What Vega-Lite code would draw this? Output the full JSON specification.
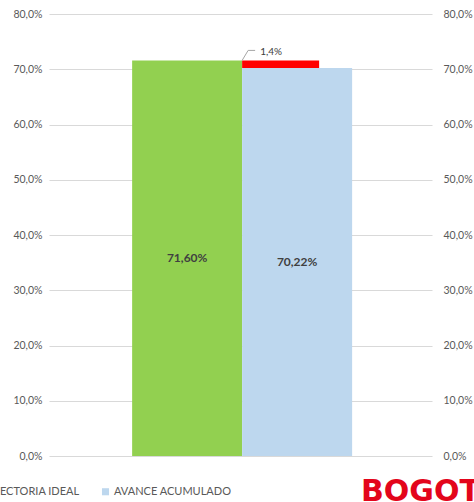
{
  "$schema": "https://vega.github.io/schema/vega-lite/v6.json",
  "autosize": "none",
  "width": 383,
  "height": 442,
  "padding": {"left": 49, "top": 14, "right": 42, "bottom": 46},
  "background": "white",
  "config": {"view": {"stroke": null}, "font": "Lato"},
  "title": {
    "text": "BOGOTÁ",
    "orient": "bottom",
    "anchor": "end",
    "frame": "group",
    "align": "left",
    "baseline": "alphabetic",
    "dx": -71,
    "offset": 4,
    "color": "#E3051B",
    "font": "DejaVu Sans",
    "fontWeight": "bold",
    "fontSize": 30
  },
  "datasets": {
    "barras": [
      {"serie": "TRAYECTORIA IDEAL", "valor": 71.6, "etiqueta": "71,60%"},
      {"serie": "AVANCE ACUMULADO", "valor": 70.22, "etiqueta": "70,22%"}
    ],
    "brecha": [
      {"serie": "AVANCE ACUMULADO", "desde": 70.22, "hasta": 71.6, "etiqueta": "1,4%"}
    ]
  },
  "resolve": {"axis": {"y": "independent"}},
  "layer": [
    {
      "data": {"name": "barras"},
      "mark": {"type": "bar"},
      "encoding": {
        "x": {
          "field": "serie", "type": "nominal", "axis": null,
          "scale": {"domain": ["TRAYECTORIA IDEAL", "AVANCE ACUMULADO"], "paddingInner": 0, "paddingOuter": 0.741, "align": 0.51}
        },
        "y": {
          "field": "valor", "type": "quantitative",
          "scale": {"domain": [0, 80], "nice": false},
          "axis": {
            "orient": "left", "title": null, "values": [0, 10, 20, 30, 40, 50, 60, 70, 80],
            "labelExpr": "replace(format(datum.value, '.1f'), '.', ',') + '%'",
            "grid": true, "gridColor": "#D9D9D9", "gridWidth": 1,
            "domain": false, "ticks": false, "labelPadding": 7,
            "labelColor": "#595959", "labelFontSize": 10.5
          }
        },
        "color": {
          "field": "serie", "type": "nominal",
          "scale": {"domain": ["TRAYECTORIA IDEAL", "AVANCE ACUMULADO"], "range": ["#92D050", "#BDD7EE"]},
          "legend": {
            "orient": "none", "legendX": -90, "legendY": 472, "direction": "horizontal",
            "title": null, "symbolType": "square", "symbolSize": 50, "symbolStrokeWidth": 0,
            "labelFontSize": 11, "labelColor": "#595959", "columnPadding": 20, "labelOffset": 3
          }
        }
      }
    },
    {
      "data": {"name": "barras"},
      "mark": {"type": "text", "fontWeight": "bold", "fontSize": 12, "color": "#404040", "baseline": "middle"},
      "encoding": {
        "x": {"field": "serie", "type": "nominal", "axis": null},
        "y": {"field": "valor", "type": "quantitative", "stack": "zero", "bandPosition": 0.5, "axis": null},
        "text": {"field": "etiqueta"}
      }
    },
    {
      "data": {"name": "brecha"},
      "mark": {"type": "bar", "color": "#FF0000", "width": 77, "xOffset": -16.5},
      "encoding": {
        "x": {"field": "serie", "type": "nominal", "axis": null},
        "y": {
          "field": "desde", "type": "quantitative",
          "scale": {"domain": [0, 80], "nice": false},
          "axis": {
            "orient": "right", "title": null, "values": [0, 10, 20, 30, 40, 50, 60, 70, 80],
            "labelExpr": "replace(format(datum.value, '.1f'), '.', ',') + '%'",
            "grid": false, "domain": false, "ticks": false, "labelPadding": 11,
            "labelColor": "#595959", "labelFontSize": 10.5
          }
        },
        "y2": {"field": "hasta"}
      }
    },
    {
      "data": {"name": "brecha"},
      "mark": {"type": "rule", "color": "#A6A6A6", "strokeWidth": 1, "x2Offset": 6, "y2Offset": -10},
      "encoding": {
        "x": {"field": "serie", "type": "nominal", "bandPosition": 0, "axis": null},
        "x2": {"field": "serie", "bandPosition": 0},
        "y": {"field": "hasta", "type": "quantitative", "axis": null},
        "y2": {"field": "hasta"}
      }
    },
    {
      "data": {"name": "brecha"},
      "mark": {"type": "rule", "color": "#A6A6A6", "strokeWidth": 1, "xOffset": 6, "x2Offset": 13, "yOffset": -10, "y2Offset": -10},
      "encoding": {
        "x": {"field": "serie", "type": "nominal", "bandPosition": 0, "axis": null},
        "x2": {"field": "serie", "bandPosition": 0},
        "y": {"field": "hasta", "type": "quantitative", "axis": null},
        "y2": {"field": "hasta"}
      }
    },
    {
      "data": {"name": "brecha"},
      "mark": {"type": "text", "align": "left", "baseline": "middle", "dx": 18, "dy": -8, "fontSize": 10, "color": "#404040"},
      "encoding": {
        "x": {"field": "serie", "type": "nominal", "bandPosition": 0, "axis": null},
        "y": {"field": "hasta", "type": "quantitative", "axis": null},
        "text": {"field": "etiqueta"}
      }
    }
  ]
}
